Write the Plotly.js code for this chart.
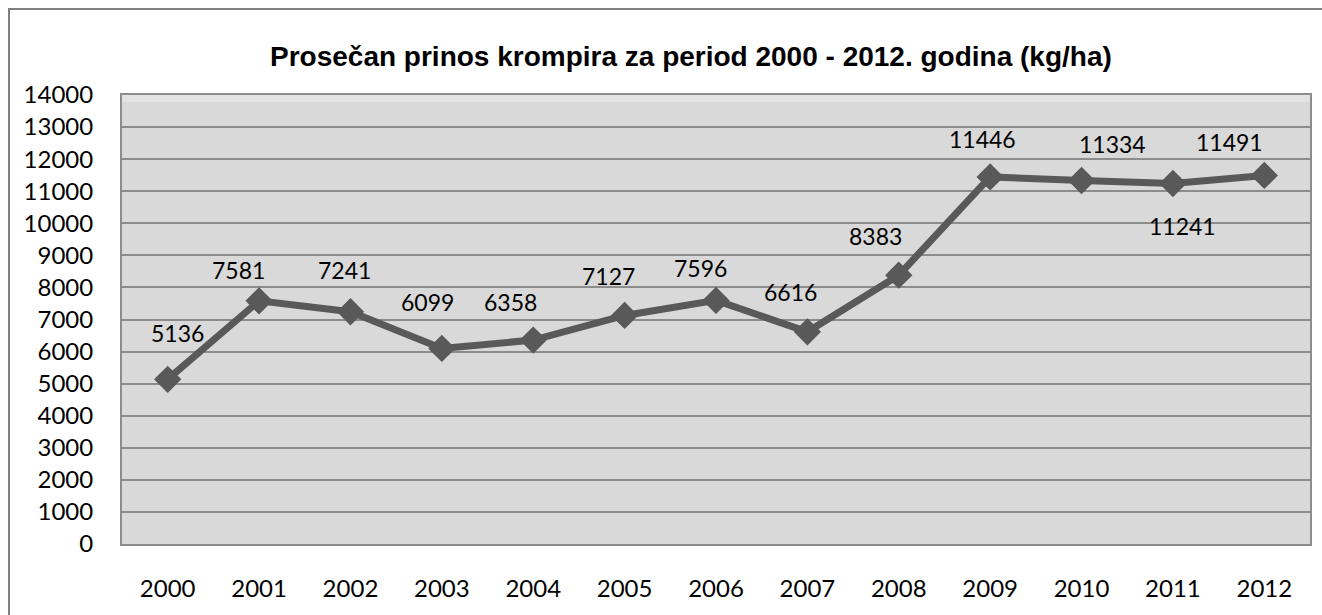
<!DOCTYPE html>
<html>
<head>
<meta charset="utf-8">
<script src="https://cdn.plot.ly/plotly-3.0.1.min.js"></script>
<style>html,body{margin:0;padding:0;background:#fff;}#chart{width:1322px;height:615px;}</style>
</head>
<body>
<div id="chart"></div>
<script>
const years = ["2000","2001","2002","2003","2004","2005","2006","2007","2008","2009","2010","2011","2012"];
const yields = [5136, 7581, 7241, 6099, 6358, 7127, 7596, 6616, 8383, 11446, 11334, 11241, 11491];
const yTicks = [0,1000,2000,3000,4000,5000,6000,7000,8000,9000,10000,11000,12000,13000,14000];
// label offsets in pixels (style, not data)
const labelDx = [10, -21, -6, -14, -23, -16, -16, -17, -23, -8, 31, 10, -35];
const labelDy = [46, 31, 42, 46, 38, 39, 32, 40, 39, 38, 37, -43, 33];

const lineColor = "#595959";
const trace = {
  x: years, y: yields, type: "scatter", mode: "lines+markers",
  line: {color: lineColor, width: 7},
  marker: {symbol: "diamond", size: 21, color: lineColor},
  hoverinfo: "x+y", showlegend: false
};

const annotations = years.map((yr, i) => ({
  x: i, y: yields[i], xref: "x", yref: "y",
  text: String(yields[i]), showarrow: false,
  xshift: labelDx[i], yshift: labelDy[i],
  font: {family: "Lato, 'Open Sans', sans-serif", size: 23, color: "#000"}
}));
annotations.push({
  xref: "paper", yref: "paper", x: (691-122)/1188, y: (544-57)/449,
  text: "<b>Prosečan prinos krompira za period 2000 - 2012. godina (kg/ha)</b>",
  showarrow: false, xanchor: "center", yanchor: "middle",
  font: {family: "'Liberation Sans', Arial, sans-serif", size: 28, color: "#000"}
});

const layout = {
  width: 1322, height: 615,
  margin: {l: 122, r: 12, t: 95, b: 71},
  paper_bgcolor: "#ffffff", plot_bgcolor: "#d9d9d9",
  font: {family: "Lato, 'Open Sans', sans-serif", color: "#000"},
  xaxis: {
    type: "category", range: [-0.5, 12.5],
    showgrid: false, zeroline: false,
    showline: true, mirror: true, linecolor: "#8c8c8c", linewidth: 2,
    ticks: "", ticklabelstandoff: 22,
    tickfont: {family: "Lato, 'Open Sans', sans-serif", size: 24, color: "#000"}
  },
  yaxis: {
    range: [0, 14000], tickmode: "array", tickvals: yTicks, ticktext: yTicks.map(String),
    showgrid: true, gridcolor: "#8c8c8c", gridwidth: 2, zeroline: false,
    showline: true, mirror: true, linecolor: "#8c8c8c", linewidth: 2,
    ticks: "", ticklabelstandoff: 22,
    tickfont: {family: "Lato, 'Open Sans', sans-serif", size: 24, color: "#000"}
  },
  shapes: [
    {type: "rect", xref: "paper", yref: "paper", layer: "below",
     x0: 0, x1: 1, y0: (544-102)/449, y1: 1,
     fillcolor: "#e3e3e3", line: {width: 0}},
    {type: "rect", xref: "paper", yref: "paper",
     x0: (9-122)/1188, x1: 1.05, y0: -0.3, y1: (544-9)/449,
     fillcolor: "rgba(0,0,0,0)", line: {color: "#808080", width: 2}}
  ],
  annotations: annotations
};

Plotly.newPlot("chart", [trace], layout, {displayModeBar: false, staticPlot: true});
</script>
</body>
</html>
